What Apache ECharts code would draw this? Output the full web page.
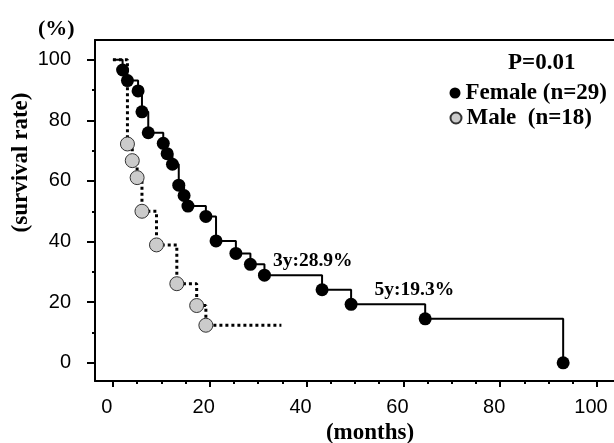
<!DOCTYPE html>
<html>
<head>
<meta charset="utf-8">
<script src="https://cdn.jsdelivr.net/npm/echarts@6/dist/echarts.min.js"></script>
<style>
html, body { margin: 0; padding: 0; background: #fff; }
#chart { width: 614px; height: 443px; }
</style>
</head>
<body>
<div id="chart"></div>
<script>
// Kaplan-Meier curves (months, survival %)
var femaleMonths = [0, 2.0, 3.0, 5.2, 6.0, 7.3, 10.4, 11.2, 12.3, 13.6, 14.7, 15.5, 19.2, 21.3, 25.4, 28.4, 31.3, 43.2, 49.2, 64.5, 93.0];
var femaleRate   = [100, 96.6, 93.1, 89.7, 82.8, 75.9, 72.4, 69.0, 65.5, 58.6, 55.2, 51.7, 48.3, 40.2, 36.1, 32.5, 28.9, 24.1, 19.3, 14.5, 0];
var maleMonths = [0, 3.0, 4.0, 5.0, 6.0, 9.0, 13.2, 17.3, 19.2, 34.8];
var maleRate   = [100, 72.2, 66.7, 61.1, 50.0, 38.9, 26.1, 18.9, 12.4, 12.4];

var femaleName = 'Female (n=29)';
var maleName = 'Male  (n=18)';
var femaleNotes = [[31.3, '3y:28.9%', 2], [49.2, '5y:19.3%', 17]];

var xTickLabels = [0, 20, 40, 60, 80, 100];
var xMinorTicks = [5, 10, 15, 25, 30, 35, 45, 50, 55, 65, 70, 75, 85, 90, 95];
var yTickLabels = [0, 20, 40, 60, 80, 100];
var yMinorTicks = [10, 30, 50, 70, 90];

var serif = '"Liberation Serif", "Times New Roman", serif';
var sans = '"Liberation Sans", Arial, sans-serif';

function buildSteps(months, rates, hideLast) {
	var out = [];
	for (var i = 0; i < months.length; i++) {
		var d = { value: [months[i], rates[i]] };
		if (i === 0 || (hideLast && i === months.length - 1)) d.symbol = 'none';
		out.push(d);
	}
	return out;
}

var femaleData = buildSteps(femaleMonths, femaleRate, false);
femaleNotes.forEach(function (n) {
	var idx = femaleMonths.indexOf(n[0]);
	femaleData[idx].label = {
		show: true, formatter: n[1], position: 'right', distance: n[2], offset: [0, -14],
		fontFamily: serif, fontWeight: 'bold', fontSize: 19.5, color: '#000'
	};
});
var maleData = buildSteps(maleMonths, maleRate, true);

var myChart = echarts.init(document.getElementById('chart'));

var axisStroke = { color: '#000', width: 2 };

function xAxisBase(pos) {
	return {
		type: 'value', min: -3.7, max: 103.5, position: pos,
		splitLine: { show: false },
		axisLine: { show: false, onZero: false },
		axisTick: { show: false },
		axisLabel: { show: false }
	};
}
function yAxisBase() {
	return {
		type: 'value', min: -6, max: 106.5, position: 'left',
		splitLine: { show: false },
		axisLine: { show: false, onZero: false }
	};
}

var xMain = xAxisBase('bottom');
xMain.axisLine = { show: true, onZero: false, lineStyle: axisStroke };
xMain.axisTick = { show: true, length: 6, customValues: xTickLabels, lineStyle: axisStroke };
xMain.axisLabel = { customValues: xTickLabels, margin: 16, fontFamily: sans, fontSize: 20, color: '#000', padding: [0, 12, 0, 0] };
var xMinor = xAxisBase('bottom');
xMinor.axisTick = { show: true, length: 3, customValues: xMinorTicks, lineStyle: axisStroke };
// top frame line only
var xTop = xAxisBase('top');
xTop.axisLine = { show: true, onZero: false, lineStyle: axisStroke };

var yMain = yAxisBase();
yMain.axisLine = { show: true, onZero: false, lineStyle: axisStroke };
yMain.axisTick = { show: true, length: 8, customValues: yTickLabels, lineStyle: axisStroke };
yMain.axisLabel = { customValues: yTickLabels, margin: 24, fontFamily: sans, fontSize: 20, color: '#000' };
var yMinor = yAxisBase();
yMinor.axisTick = { show: true, length: 3, customValues: yMinorTicks, lineStyle: axisStroke };
yMinor.axisLabel = { show: false };

var legendText = { fontFamily: serif, fontWeight: 'bold', fontSize: 23, color: '#000' };

option = {
	animation: false,
	backgroundColor: '#fff',
	grid: { left: 95, top: 40, right: 0, bottom: 62 },
	xAxis: [xMain, xMinor, xTop],
	yAxis: [yMain, yMinor],
	legend: [
		{ data: [femaleName], orient: 'vertical', left: 449.5, top: 81.5, icon: 'circle',
		  itemWidth: 11, itemHeight: 11, selectedMode: false, textStyle: legendText, padding: 0 },
		{ data: [maleName], orient: 'vertical', left: 449.5, top: 106.5, icon: 'circle',
		  itemWidth: 11, itemHeight: 11, selectedMode: false, textStyle: legendText, padding: 0 }
	],
	graphic: [
		{ type: 'text', left: 38, top: 18, style: { text: '(%)', font: 'bold 22px ' + serif, fill: '#000' } },
		{ type: 'text', x: 21, y: 162.5, rotation: Math.PI / 2,
		  style: { text: '(survival rate)', font: 'bold 23px ' + serif, fill: '#000', align: 'center', verticalAlign: 'middle' } },
		{ type: 'text', x: 508, y: 63,
		  style: { text: 'P=0.01', font: 'bold 23px ' + serif, fill: '#000', align: 'left', verticalAlign: 'middle' } },
		{ type: 'text', x: 370, y: 433,
		  style: { text: '(months)', font: 'bold 23px ' + serif, fill: '#000', align: 'center', verticalAlign: 'middle' } }
	],
	series: [
		{
			name: maleName, type: 'line', step: 'end', z: 2,
			data: maleData,
			symbol: 'circle', symbolSize: 14,
			itemStyle: { color: '#cbcbcb', borderColor: '#333', borderWidth: 1 },
			lineStyle: { color: '#000', width: 3, type: [3, 3] },
			emphasis: { disabled: true }
		},
		{
			name: femaleName, type: 'line', step: 'end', z: 3,
			data: femaleData,
			symbol: 'circle', symbolSize: 13,
			itemStyle: { color: '#000' },
			lineStyle: { color: '#000', width: 2 },
			emphasis: { disabled: true }
		}
	]
};

myChart.setOption(option);
</script>
</body>
</html>
